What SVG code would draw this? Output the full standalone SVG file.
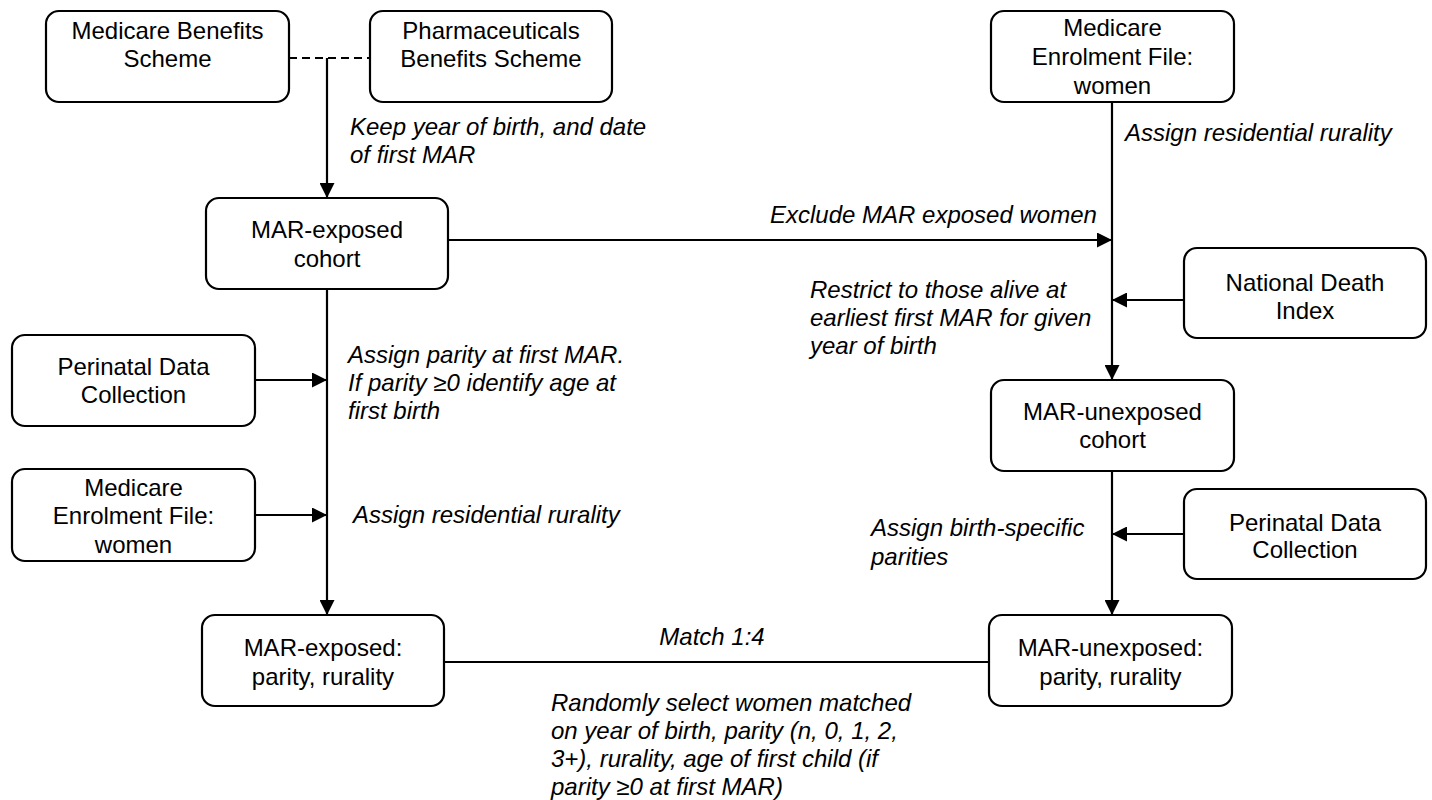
<svg xmlns="http://www.w3.org/2000/svg" width="1432" height="800" viewBox="0 0 1432 800">
<defs>
<marker id="arr" markerUnits="userSpaceOnUse" markerWidth="16" markerHeight="15" refX="15" refY="7.5" orient="auto">
<path d="M0,0 L15,7.5 L0,15 z" fill="#000"/>
</marker>
<style>
.box{fill:#fff;stroke:#000;stroke-width:2.2}
.t{font-family:"Liberation Sans",Arial,sans-serif;font-size:24px;fill:#000;text-anchor:middle}
.l{font-family:"Liberation Sans",Arial,sans-serif;font-size:24px;font-style:italic;fill:#000}
.c{fill:none;stroke:#000;stroke-width:2.2}
</style>
</defs>
<rect width="1432" height="800" fill="#fff"/>
<g id="connectors">
<path class="c" d="M289,58 H370" stroke-dasharray="8 5"/>
<path class="c" d="M327,58 V198" marker-end="url(#arr)"/>
<path class="c" d="M448,240 H1112" marker-end="url(#arr)"/>
<path class="c" d="M1112,102 V380" marker-end="url(#arr)"/>
<path class="c" d="M1184,300 H1112" marker-end="url(#arr)"/>
<path class="c" d="M1112,471 V615" marker-end="url(#arr)"/>
<path class="c" d="M1184,534 H1112" marker-end="url(#arr)"/>
<path class="c" d="M327,289 V615" marker-end="url(#arr)"/>
<path class="c" d="M255,380 H327" marker-end="url(#arr)"/>
<path class="c" d="M255,515 H327" marker-end="url(#arr)"/>
<path class="c" d="M444,662 H989" stroke-width="4"/>
</g>
<g id="labels">
<text class="l" x="350" y="135">Keep year of birth, and date</text>
<text class="l" x="350" y="163">of first MAR</text>
<text class="l" x="770" y="223">Exclude MAR exposed women</text>
<text class="l" x="1125" y="141">Assign residential rurality</text>
<text class="l" x="810" y="298">Restrict to those alive at</text>
<text class="l" x="810" y="326">earliest first MAR for given</text>
<text class="l" x="810" y="354">year of birth</text>
<text class="l" x="348" y="363">Assign parity at first MAR.</text>
<text class="l" x="348" y="391">If parity ≥0 identify age at</text>
<text class="l" x="348" y="419">first birth</text>
<text class="l" x="353" y="523">Assign residential rurality</text>
<text class="l" x="871" y="536">Assign birth-specific</text>
<text class="l" x="871" y="565">parities</text>
<text class="l" x="712" y="645" text-anchor="middle">Match 1:4</text>
<text class="l" x="551" y="711">Randomly select women matched</text>
<text class="l" x="551" y="739">on year of birth, parity (n, 0, 1, 2,</text>
<text class="l" x="551" y="767">3+), rurality, age of first child (if</text>
<text class="l" x="551" y="795">parity ≥0 at first MAR)</text>
</g>
<g id="mbs">
<rect class="box" x="46" y="11" width="243" height="91" rx="13"/>
<text class="t" x="167.5" y="39">Medicare Benefits</text>
<text class="t" x="167.5" y="67">Scheme</text>
</g>
<g id="pbs">
<rect class="box" x="370" y="11" width="242" height="91" rx="13"/>
<text class="t" x="491" y="39">Pharmaceuticals</text>
<text class="t" x="491" y="67">Benefits Scheme</text>
</g>
<g id="mef-right">
<rect class="box" x="991" y="11" width="243" height="91" rx="13"/>
<text class="t" x="1112.5" y="36">Medicare</text>
<text class="t" x="1112.5" y="65">Enrolment File:</text>
<text class="t" x="1112.5" y="94">women</text>
</g>
<g id="exposed-cohort">
<rect class="box" x="206" y="198" width="242" height="91" rx="13"/>
<text class="t" x="327" y="238">MAR-exposed</text>
<text class="t" x="327" y="267">cohort</text>
</g>
<g id="ndi">
<rect class="box" x="1184" y="248" width="242" height="90" rx="13"/>
<text class="t" x="1305" y="291">National Death</text>
<text class="t" x="1305" y="319">Index</text>
</g>
<g id="pdc-left">
<rect class="box" x="12" y="335" width="243" height="91" rx="13"/>
<text class="t" x="133.5" y="375">Perinatal Data</text>
<text class="t" x="133.5" y="403">Collection</text>
</g>
<g id="unexposed-cohort">
<rect class="box" x="991" y="380" width="243" height="91" rx="13"/>
<text class="t" x="1112.5" y="420">MAR-unexposed</text>
<text class="t" x="1112.5" y="448">cohort</text>
</g>
<g id="mef-left">
<rect class="box" x="12" y="469" width="243" height="92" rx="13"/>
<text class="t" x="133.5" y="496">Medicare</text>
<text class="t" x="133.5" y="524">Enrolment File:</text>
<text class="t" x="133.5" y="553">women</text>
</g>
<g id="pdc-right">
<rect class="box" x="1184" y="489" width="242" height="90" rx="13"/>
<text class="t" x="1305" y="531">Perinatal Data</text>
<text class="t" x="1305" y="558">Collection</text>
</g>
<g id="exposed-parity">
<rect class="box" x="202" y="615" width="242" height="91" rx="13"/>
<text class="t" x="323" y="656">MAR-exposed:</text>
<text class="t" x="323" y="685">parity, rurality</text>
</g>
<g id="unexposed-parity">
<rect class="box" x="989" y="615" width="243" height="91" rx="13"/>
<text class="t" x="1110.5" y="656">MAR-unexposed:</text>
<text class="t" x="1110.5" y="685">parity, rurality</text>
</g>
</svg>
